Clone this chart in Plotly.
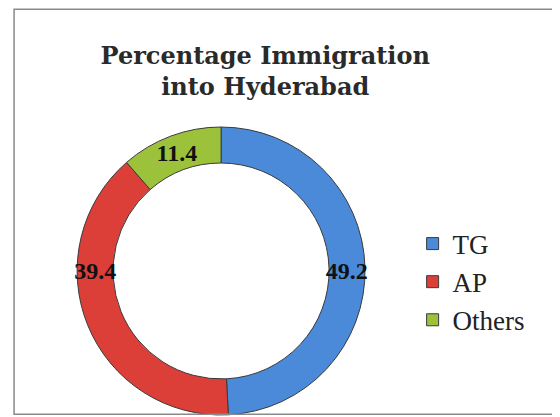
import plotly.graph_objs as go

# data
regions = ["TG", "AP", "Others"]
shares = [49.2, 39.4, 11.4]
colours = ["#4a8ad8", "#dc3f38", "#9cc23c"]

SERIF = "Liberation Serif, Times New Roman, serif"
WIDE_SERIF = "DejaVu Serif, Liberation Serif, serif"

# the page body adds an 8px margin, so the figure is sized to what stays visible
W, H = 552, 409


def build_fig() -> go.Figure:
    fig = go.Figure()
    fig.add_trace(
        go.Pie(
            labels=regions,
            values=shares,
            hole=0.75,
            sort=False,
            direction="clockwise",
            rotation=0,
            marker={"colors": colours, "line": {"color": "#3a3a3a", "width": 1}},
            textinfo="value",
            textposition="inside",
            insidetextorientation="horizontal",
            textfont={"family": SERIF, "size": 24, "color": "#111111", "weight": "bold"},
            domain={"x": [0.125, 0.647], "y": [0.005, 0.709]},
        )
    )

    fig.update_layout(
        width=W,
        height=H,
        margin={"l": 0, "r": 0, "t": 0, "b": 0},
        paper_bgcolor="white",
        plot_bgcolor="white",
        font={"family": SERIF, "color": "#222222"},
        uniformtext={"minsize": 24, "mode": "show"},
        title={
            "text": "Percentage Immigration<br>into Hyderabad",
            "font": {"family": WIDE_SERIF, "size": 24, "color": "#2a2a2a", "weight": "bold"},
            "x": 0.466,
            "xanchor": "center",
            "y": 0.863,
            "yanchor": "top",
        },
        legend={
            "x": 0.733,
            "xanchor": "left",
            "y": 0.33,
            "yanchor": "middle",
            "font": {"family": SERIF, "size": 27, "color": "#222222"},
            "bgcolor": "rgba(0,0,0,0)",
        },
        shapes=[
            {
                "type": "rect",
                "xref": "paper",
                "yref": "paper",
                "x0": 0.011,
                "x1": 0.987,
                "y0": 0.007,
                "y1": 0.997,
                "line": {"color": "#8a8a8a", "width": 1.5},
            }
        ],
    )
    return fig


fig = build_fig()
fig.write_html("out.html")
